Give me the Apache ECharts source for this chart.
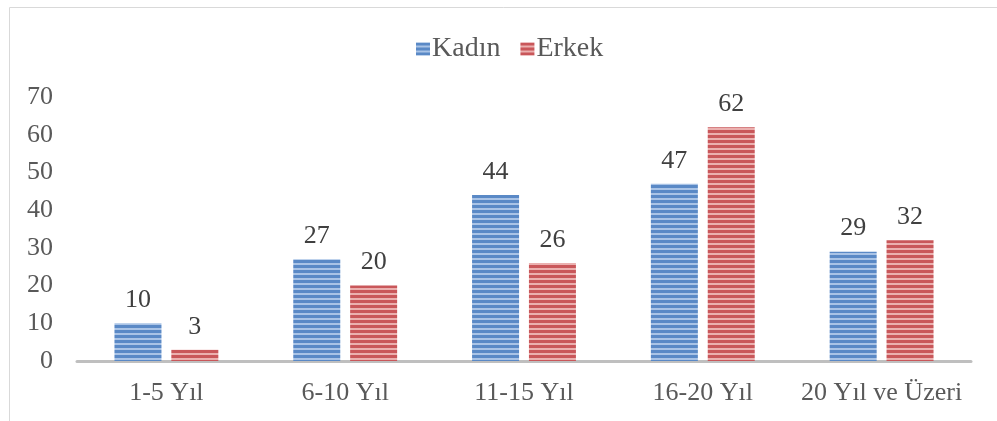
<!DOCTYPE html>
<html>
<head>
<meta charset="utf-8">
<script src="https://cdn.jsdelivr.net/npm/echarts@6/dist/echarts.min.js"></script>
<style>
  html, body { margin: 0; padding: 0; background: #fff; }
</style>
</head>
<body>
<div id="chart" style="width:997px;height:421px;"></div>
<script>
var categories = ['1-5 Yıl', '6-10 Yıl', '11-15 Yıl', '16-20 Yıl', '20 Yıl ve Üzeri'];
var kadin = [10, 27, 44, 47, 29];
var erkek = [3, 20, 26, 62, 32];
var yTicks = [0, 10, 20, 30, 40, 50, 60, 70];

// horizontal stripe fill like the office "narrow horizontal" pattern
function stripes(dark, light) {
    var c = document.createElement('canvas');
    c.width = 8;
    c.height = 5;
    var ctx = c.getContext('2d');
    ctx.fillStyle = dark;
    ctx.fillRect(0, 0, 8, 5);
    ctx.fillStyle = light;
    ctx.fillRect(0, 3, 8, 2);
    return { image: c, repeat: 'repeat' };
}

var blueFill = stripes('#5a89c6', '#a9c3e6');
var redFill = stripes('#c9575a', '#ebb0af');

var chart = echarts.init(document.getElementById('chart'));
var font = 'Liberation Serif';

var option = {
    animation: false,
    textStyle: { fontFamily: font },
    graphic: [{
        type: 'rect',
        shape: { x: 9.5, y: 7.5, width: 1100, height: 600 },
        style: { fill: 'none', stroke: '#d9d9d9', lineWidth: 1 },
        silent: true
    }],
    legend: {
        top: 30,
        left: 411,
        icon: 'rect',
        itemWidth: 14,
        itemHeight: 13,
        itemGap: 20,
        textStyle: { fontFamily: font, fontSize: 28, color: '#595959', padding: [0, 0, 0, -3] },
        data: [
            { name: 'Kadın', itemStyle: { color: blueFill } },
            { name: 'Erkek', itemStyle: { color: redFill } }
        ]
    },
    grid: { left: 77, right: 26, top: 97, bottom: 60 },
    xAxis: {
        type: 'category',
        data: categories,
        axisLine: { lineStyle: { color: '#bfbfbf', width: 3 } },
        axisTick: { show: false },
        axisLabel: { interval: 0, fontFamily: font, fontSize: 26, color: '#595959', margin: 19 }
    },
    yAxis: {
        type: 'value',
        min: yTicks[0],
        max: yTicks[yTicks.length - 1],
        interval: 10,
        splitLine: { show: false },
        axisLine: { show: false },
        axisTick: { show: false },
        axisLabel: { fontFamily: font, fontSize: 26, color: '#595959', margin: 24 }
    },
    series: [
        {
            name: 'Kadın',
            type: 'bar',
            data: kadin,
            barWidth: 47,
            barGap: '21%',
            itemStyle: { color: blueFill },
            label: { show: true, position: 'top', distance: 10, fontFamily: font, fontSize: 26, color: '#404040' }
        },
        {
            name: 'Erkek',
            type: 'bar',
            data: erkek,
            barWidth: 47,
            itemStyle: { color: redFill },
            label: { show: true, position: 'top', distance: 10, fontFamily: font, fontSize: 26, color: '#404040' }
        }
    ]
};

chart.setOption(option);
</script>
</body>
</html>
